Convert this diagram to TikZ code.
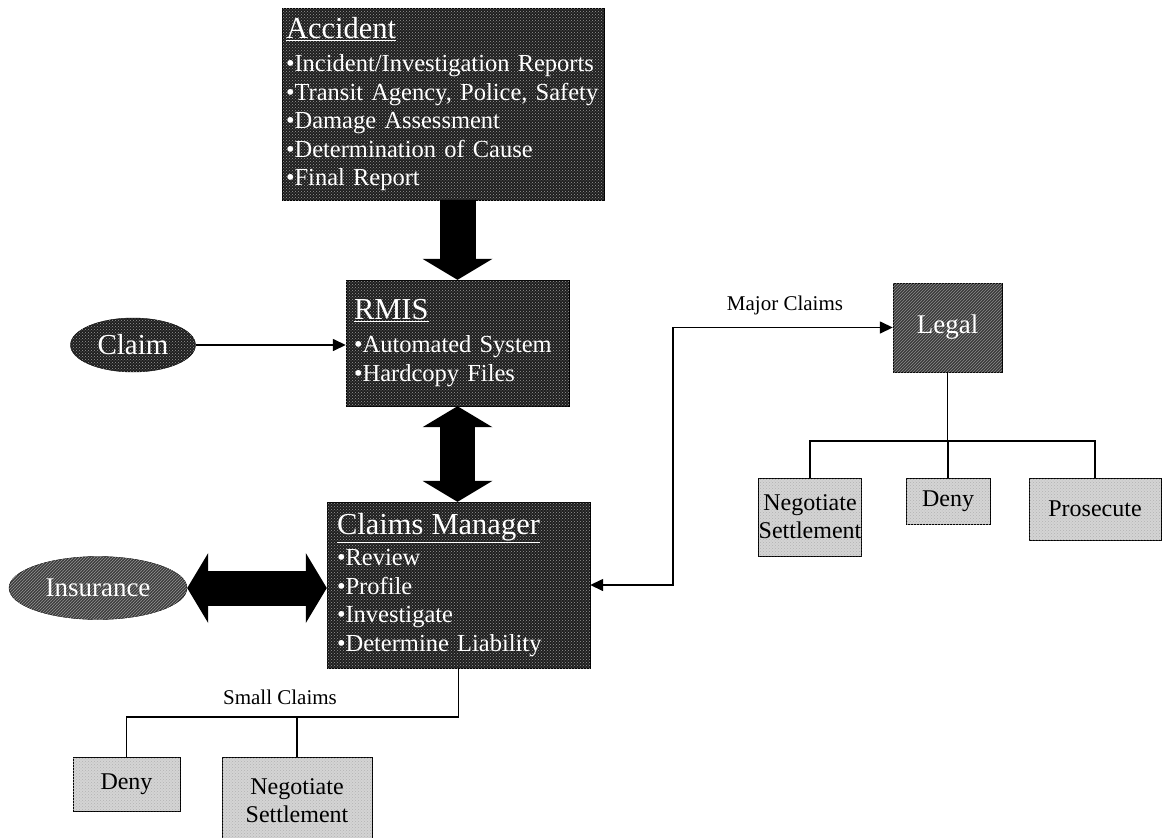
\documentclass[tikz,border=0pt]{standalone}
\usepackage{fontspec}
\setmainfont{Liberation Serif}
\usepackage{tikz}
\usetikzlibrary{positioning,shapes.geometric,arrows.meta,calc,patterns}
\definecolor{darkbox}{HTML}{1E1E1E}
\definecolor{hatchbox}{HTML}{3A3A3A}
\definecolor{lightbox}{HTML}{D4D4D4}

\begin{document}
\begin{tikzpicture}[
      x=1pt, y=-1pt,
      dark/.style={
        rectangle,
        draw=black,
        fill=darkbox,
        text=white,
        align=left,
        inner ysep=0pt,
        font=\fontsize{24.5}{28.5}\selectfont,
        postaction={pattern=crosshatch dots, pattern color=black!40}
      },
      hatched/.style={
        fill=hatchbox,
        text=white,
        inner sep=0pt,
        font=\fontsize{27}{30}\selectfont,
        postaction={pattern=north east lines, pattern color=black!45}
      },
      oval/.style={
        ellipse,
        draw=black,
        fill=darkbox,
        text=white,
        inner sep=0pt,
        font=\fontsize{29}{32}\selectfont,
        postaction={pattern=crosshatch dots, pattern color=black!40}
      },
      outcome/.style={
        rectangle,
        draw=black,
        thick,
        fill=lightbox,
        align=center,
        inner sep=0pt,
        font=\fontsize{24}{28}\selectfont,
        postaction={pattern=crosshatch dots, pattern color=black!30}
      },
      lbl/.style={font=\fontsize{21}{24}\selectfont},
      link/.style={line width=1.5pt},
      fat/.style={line width=36pt, -{Triangle[length=21pt,width=70pt,line width=0pt]}},
      fatboth/.style={line width=35pt,
        {Triangle[length=21pt,width=70pt,line width=0pt]}-{Triangle[length=21pt,width=70pt,line width=0pt]}},
      tip/.style={-{Triangle[length=13pt,width=12pt]}}
      ]
      \useasboundingbox (0,0) rectangle (1165,838);
      \clip (0,0) rectangle (1165,838);
      % main chain
      \node[dark, minimum width=322pt, minimum height=192pt, text width=314pt, inner xsep=4pt] (acc) at (443,104) {%
        {\fontsize{30.5}{34}\selectfont\underline{Accident}}\\[5pt]
        •Incident/Investigation Reports\\
        •Transit Agency, Police, Safety\\
        •Damage Assessment\\
        •Determination of Cause\\
        •Final Report};
      \node[dark, minimum width=223pt, minimum height=126pt, text width=207pt, inner xsep=8pt] (rmis) at (457.5,343) {%
        {\fontsize{30.5}{34}\selectfont\underline{RMIS}}\\[5pt]
        •Automated System\\
        •Hardcopy Files};
      \node[dark, minimum width=263pt, minimum height=166pt, text width=243pt, inner xsep=10pt] (claims) at (458.5,585) {%
        {\fontsize{30.5}{34}\selectfont\underline{Claims Manager}}\\[3pt]
        •Review\\
        •Profile\\
        •Investigate\\
        •Determine Liability};
      \node[oval, minimum width=125pt, minimum height=54pt] (claim) at (133,345) {Claim};
      \node[oval, hatched, ellipse, minimum width=178pt, minimum height=63pt] (ins) at (98,588) {Insurance};
      \node[hatched, rectangle, draw=black, minimum width=109pt, minimum height=89pt] (legal) at (947.5,327.5) {Legal};
      % outcomes
      \node[outcome, minimum width=107pt, minimum height=54pt] (deny1) at (126.5,784) {Deny};
      \node[outcome, minimum width=150pt, minimum height=88pt] (neg1) at (297,801) {Negotiate\\Settlement};
      \node[outcome, minimum width=100pt, minimum height=78pt] (neg2) at (810,517) {Negotiate\\Settlement};
      \node[outcome, minimum width=84pt, minimum height=46pt] (deny2) at (948,501) {Deny};
      \node[outcome, minimum width=132pt, minimum height=62pt] (pros) at (1095,509) {Prosecute};
      \node[lbl] (smalllbl) at (280,697) {Small Claims};
      \node[lbl] (majorlbl) at (785,305) {Major Claims};
      \coordinate (majorx) at (673,327);
      \coordinate (smallbus) at (0,717);
      \coordinate (legalbus) at (0,441);
      % connectors
      \draw[fat] (rmis.north |- acc.south) -- (rmis.north);
      \draw[fatboth] (rmis.south) -- (rmis.south |- claims.north);
      \draw[fatboth] (ins.east) -- (ins.east -| claims.west);
      \draw[link, tip] (claim.east) -- (claim.east -| rmis.west);
      \draw[link, {Triangle[length=13pt,width=12pt]}-{Triangle[length=13pt,width=12pt]}]
        (claims.east) -- (claims.east -| majorx) |- (legal.west);
      \draw[link] (claims.south) -- (claims.south |- smallbus) -| (deny1.north);
      \draw[link] (neg1.north) -- (neg1.north |- smallbus);
      \draw[link] (legal.south) -- (legal.south |- legalbus);
      \draw[link] (neg2.north) |- (pros.north |- legalbus) -- (pros.north);
      \draw[link] (deny2.north) -- (deny2.north |- legalbus);
\end{tikzpicture}
\end{document}
